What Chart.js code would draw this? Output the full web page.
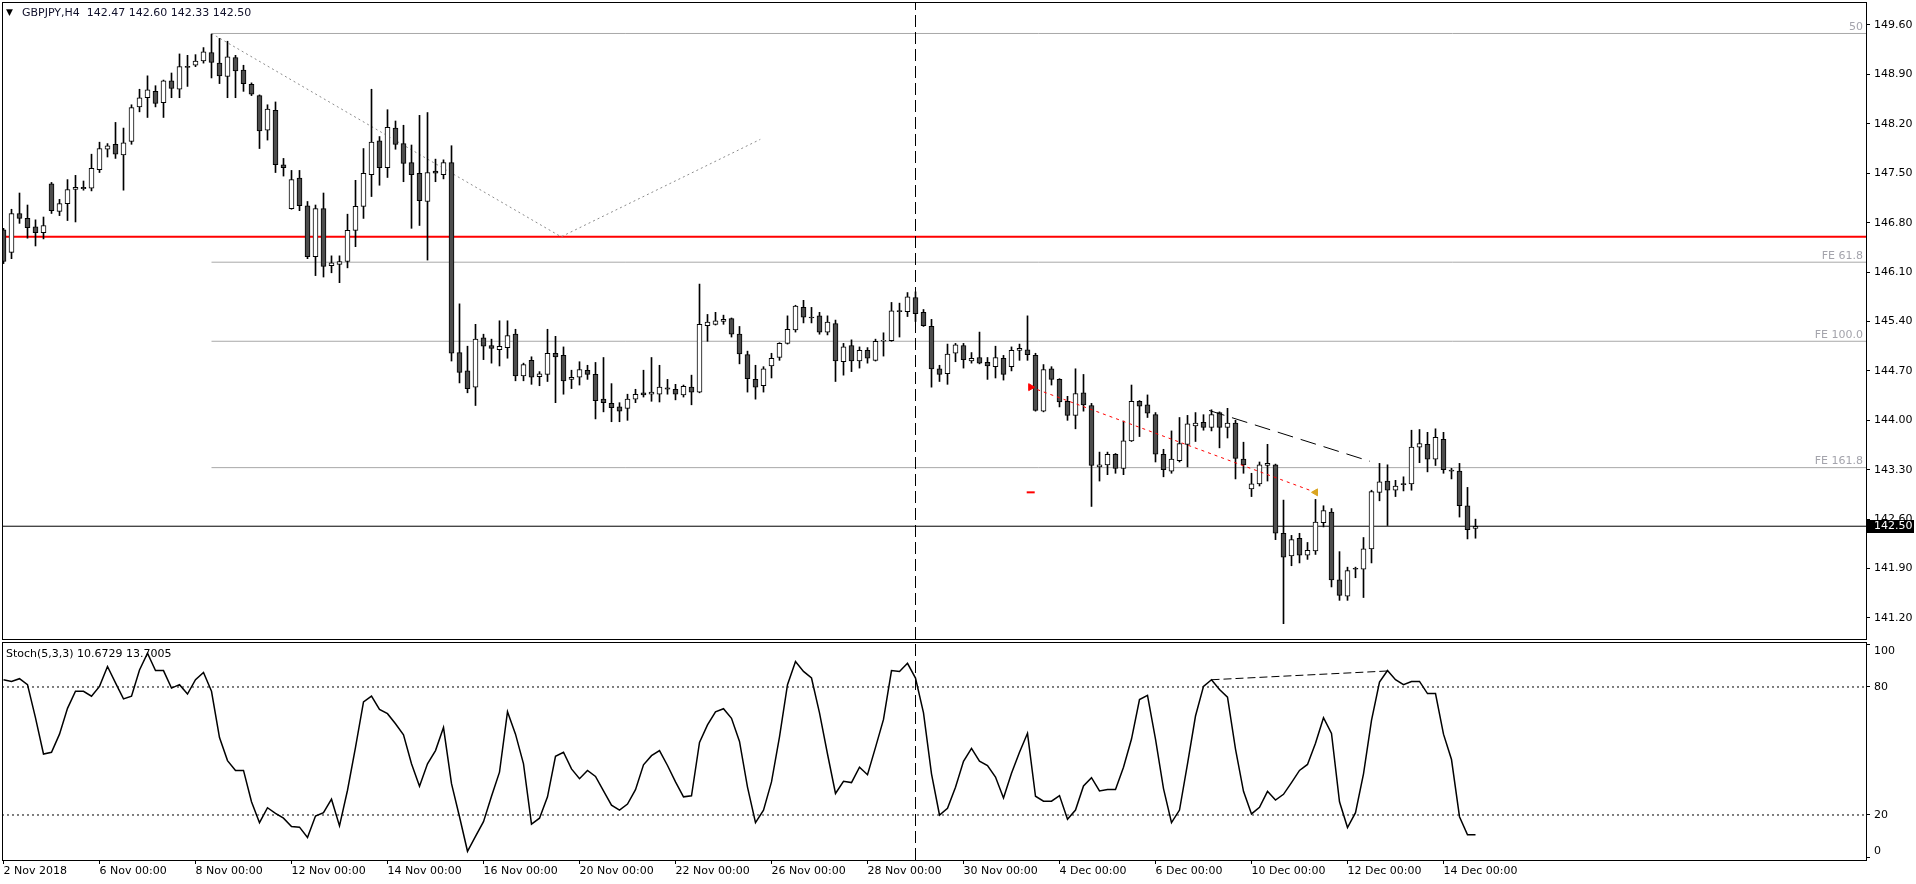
<!DOCTYPE html>
<html>
<head>
<meta charset="utf-8">
<title>GBPJPY,H4</title>
<script src="https://cdn.jsdelivr.net/npm/chart.js@4.4.1/dist/chart.umd.min.js"></script>
<style>
  html, body { margin: 0; padding: 0; background: #fff; overflow: hidden; }
  #wrap { position: relative; width: 1916px; height: 884px; }
  #priceChart { position: absolute; left: 0; top: 0; }
  #stochChart { position: absolute; left: 0; top: 641px; }
</style>
</head>
<body>
<div id="wrap">
  <canvas id="priceChart" width="1916" height="641"></canvas>
  <canvas id="stochChart" width="1916" height="243"></canvas>
</div>
<script>
// H4 bars, 2 Nov 2018 00:00 .. 14 Dec 2018 16:00 (bar index = position)
const opens = [
  146.70,146.38,146.93,146.86,146.74,146.66,147.35,146.96,147.07,147.27,
  147.30,147.29,147.55,147.84,147.91,147.76,147.95,148.44,148.57,148.66,
  148.50,148.81,148.69,149.01,149.03,149.09,149.21,149.06,148.87,149.14,
  148.96,148.76,148.60,148.11,148.39,147.62,147.00,147.43,147.04,146.32,
  147.00,146.19,146.21,146.25,146.69,147.03,147.48,147.96,147.58,148.14,
  147.92,147.65,147.50,147.10,147.53,147.48,147.65,144.96,144.70,144.47,
  145.17,145.06,145.00,145.03,145.22,144.63,144.85,144.62,144.65,144.95,
  144.92,144.58,144.61,144.71,144.65,144.30,144.24,144.19,144.17,144.30,
  144.39,144.37,144.37,144.46,144.44,144.36,144.47,144.40,145.34,145.36,
  145.40,145.44,145.22,144.93,144.58,144.49,144.77,144.89,145.09,145.28,
  145.60,145.46,145.48,145.25,145.37,144.83,145.06,144.84,144.99,144.85,
  145.12,145.13,145.55,145.54,145.74,145.53,145.33,144.73,144.66,144.95,
  145.06,144.84,144.89,144.82,144.76,144.88,144.76,144.99,145.00,144.92,
  144.13,144.73,144.58,144.27,144.07,144.39,144.21,143.34,143.37,143.52,
  143.32,143.71,144.27,144.22,144.08,143.52,143.28,143.43,143.66,143.92,
  143.97,143.90,144.11,143.90,143.96,143.45,143.03,143.10,143.36,143.37,
  142.40,142.08,142.33,142.09,142.15,142.55,142.70,141.74,141.51,141.90,
  141.89,142.18,142.98,143.14,143.01,143.10,143.10,143.62,143.66,143.45,
  143.73,143.29,143.28,142.79,142.47
];
const highs = [
  146.72,146.99,147.22,147.05,146.84,146.88,147.37,147.13,147.41,147.47,
  147.39,147.77,147.94,147.92,148.22,148.14,148.47,148.69,148.88,148.74,
  148.82,148.92,149.19,149.17,149.18,149.28,149.47,149.41,149.37,149.17,
  149.03,148.78,148.61,148.47,148.51,147.71,147.54,147.54,147.10,147.05,
  147.22,146.33,146.33,146.92,147.40,147.85,148.69,148.02,148.40,148.24,
  148.18,147.90,148.32,148.36,147.70,147.69,147.89,145.65,145.05,145.36,
  145.22,145.15,145.41,145.41,145.29,144.81,144.90,144.69,145.29,145.19,
  145.04,144.71,144.83,144.78,144.82,144.89,144.52,144.25,144.37,144.44,
  144.71,144.89,144.78,144.58,144.51,144.50,144.64,145.93,145.50,145.53,
  145.49,145.45,145.33,144.98,144.78,144.76,144.95,145.10,145.48,145.63,
  145.70,145.60,145.53,145.48,145.42,145.09,145.14,145.04,145.03,145.15,
  145.24,145.67,145.66,145.81,145.82,145.57,145.43,144.78,145.08,145.09,
  145.09,144.96,145.25,144.89,145.05,144.92,145.04,145.08,145.48,144.95,
  144.79,144.76,144.59,144.34,144.73,144.65,144.24,143.55,143.55,143.53,
  143.99,144.50,144.28,144.36,144.11,143.59,143.85,144.04,144.07,144.11,
  144.08,144.15,144.12,144.17,144.00,143.69,143.25,143.41,143.66,143.38,
  142.87,142.37,142.40,142.27,142.88,142.79,142.75,142.14,141.92,141.92,
  142.34,143.01,143.39,143.37,143.15,143.20,143.86,143.87,143.83,143.88,
  143.83,143.32,143.39,143.05,142.60
];
const lows = [
  146.22,146.29,146.79,146.58,146.47,146.57,146.93,146.90,146.83,146.81,
  147.26,147.25,147.51,147.73,147.71,147.26,147.91,148.37,148.29,148.44,
  148.29,148.57,148.57,148.73,149.01,149.06,148.85,148.77,148.57,148.57,
  148.66,148.60,147.85,147.97,147.51,147.46,146.99,146.97,146.29,146.05,
  146.03,146.09,145.95,146.16,146.46,146.86,147.17,147.33,147.44,147.84,
  147.38,146.72,146.76,146.27,147.38,147.42,144.84,144.53,144.39,144.21,
  144.86,144.81,144.77,144.88,144.56,144.56,144.51,144.49,144.55,144.25,
  144.37,144.45,144.50,144.58,144.02,144.12,143.98,143.98,144.00,144.25,
  144.33,144.27,144.26,144.37,144.29,144.33,144.22,144.39,145.12,145.35,
  145.36,145.18,144.80,144.40,144.30,144.40,144.60,144.85,145.08,145.25,
  145.38,145.38,145.22,145.21,144.55,144.64,144.69,144.74,144.81,144.84,
  144.91,145.12,145.18,145.47,145.40,145.33,144.47,144.55,144.51,144.83,
  144.74,144.81,144.80,144.58,144.60,144.57,144.70,144.85,144.85,144.13,
  144.12,144.50,144.19,144.00,143.88,144.13,142.78,143.14,143.23,143.25,
  143.23,143.70,143.77,144.04,143.41,143.20,143.25,143.41,143.34,143.70,
  143.86,143.85,143.61,143.75,143.17,143.25,142.92,143.07,143.14,142.31,
  141.12,141.94,141.98,142.03,142.10,142.49,141.64,141.45,141.45,141.77,
  141.49,141.98,142.86,142.51,142.92,143.00,143.01,143.40,143.27,143.36,
  143.25,143.17,142.63,142.32,142.33
];
const closes = [
  146.25,146.93,146.86,146.73,146.66,146.76,146.97,147.07,147.27,147.30,
  147.28,147.57,147.85,147.89,147.77,147.93,148.43,148.57,148.68,148.49,
  148.81,148.70,149.01,149.00,149.09,149.22,149.07,148.88,149.15,148.95,
  148.77,148.62,148.10,148.41,147.62,147.58,147.41,147.04,146.32,147.00,
  146.18,146.23,146.25,146.69,147.03,147.50,147.94,147.58,148.15,147.91,
  147.64,147.48,147.11,147.51,147.50,147.65,144.95,144.68,144.45,145.15,
  145.05,145.02,145.05,145.20,144.63,144.79,144.61,144.66,144.95,144.90,
  144.56,144.61,144.72,144.65,144.28,144.25,144.18,144.13,144.30,144.37,
  144.36,144.40,144.47,144.44,144.37,144.48,144.40,145.36,145.39,145.41,
  145.43,145.22,144.94,144.59,144.47,144.73,144.88,145.09,145.29,145.62,
  145.46,145.45,145.25,145.39,144.84,145.04,144.84,144.99,144.88,145.12,
  145.13,145.55,145.54,145.75,145.51,145.34,144.73,144.65,144.94,145.07,
  144.86,144.88,144.81,144.77,144.89,144.65,144.99,145.02,144.93,144.14,
  144.72,144.58,144.26,144.07,144.38,144.22,143.36,143.37,143.52,143.32,
  143.71,144.27,144.20,144.10,143.52,143.30,143.45,143.67,143.95,143.96,
  143.90,144.08,143.90,143.96,143.46,143.37,143.10,143.37,143.39,142.40,
  142.06,142.31,142.09,142.16,142.56,142.72,141.74,141.52,141.87,141.89,
  142.18,142.99,143.13,143.01,143.07,143.09,143.62,143.67,143.45,143.76,
  143.30,143.28,142.79,142.45,142.50
];
// Stochastic (5,3,3) main line, one value per bar
const stochMain = [
  83.4,82.6,83.9,81.1,65.5,48.6,49.4,57.9,70.0,78.0,
  78.0,75.7,80.3,89.6,81.9,74.4,75.7,88.0,95.8,87.7,
  87.7,79.5,81.1,76.7,83.4,86.8,78.0,56.3,45.5,40.9,
  40.9,26.2,16.4,23.4,20.8,18.5,14.6,14.3,9.5,19.5,
  21.1,27.4,14.9,31.6,51.7,73.0,75.7,69.5,67.5,62.8,
  57.6,44.0,33.5,44.0,50.2,61.0,34.7,19.2,3.0,10.0,
  16.9,28.8,40.1,68.4,57.9,44.0,15.7,18.5,28.5,47.5,
  49.4,41.6,37.0,40.9,38.1,31.3,24.6,22.3,25.1,31.9,
  43.5,47.8,50.2,43.2,35.5,28.5,29.0,54.0,62.2,68.4,
  69.8,65.3,54.5,33.1,16.4,22.3,35.5,56.6,81.1,91.9,
  87.3,84.2,67.9,48.6,30.1,35.8,35.2,42.4,38.9,51.7,
  64.8,87.7,87.3,91.1,84.2,67.9,39.3,20.0,23.1,33.0,
  45.2,51.2,45.2,43.2,37.8,28.0,39.6,49.4,58.3,28.8,
  26.5,26.5,29.1,18.0,22.3,33.6,37.5,31.3,31.9,31.9,
  42.4,55.6,74.1,76.1,55.6,32.4,16.4,22.3,44.0,66.4,
  80.3,83.4,78.8,75.2,50.9,31.1,20.5,23.6,31.1,27.0,
  29.7,35.2,40.9,43.7,53.6,65.6,58.2,26.2,14.1,21.1,
  39.3,64.4,82.3,87.7,83.4,81.1,82.6,82.6,76.9,76.9,
  57.9,46.0,19.2,10.7,10.7
];

const priceTicks = [149.60,148.90,148.20,147.50,146.80,146.10,145.40,144.70,144.00,143.30,142.60,141.90,141.20];
const stochTicks = [0, 20, 80, 100];
const stochLevels = [20, 80];
const dateTickBars = [0,12,24,36,48,60,72,84,96,108,120,132,144,156,168,180];
const dateTickLabels = ['2 Nov 2018','6 Nov 00:00','8 Nov 00:00','12 Nov 00:00','14 Nov 00:00','16 Nov 00:00',
  '20 Nov 00:00','22 Nov 00:00','26 Nov 00:00','28 Nov 00:00','30 Nov 00:00','4 Dec 00:00',
  '6 Dec 00:00','10 Dec 00:00','12 Dec 00:00','14 Dec 00:00'];

// drawn objects
const fiboLevels = [149.48, 146.24, 145.12, 143.33];
const fiboLabels = ['50', 'FE 61.8', 'FE 100.0', 'FE 161.8'];
const fiboStartBar = 26;
const fiboTrendBars = [26, 69.7, 94.6];
const fiboTrendPrices = [149.48, 146.60, 147.98];
const redLevel = 146.60;
const cursorBar = 114;
const tradeBars = [128.4, 164];
const tradePrices = [144.47, 142.98];
const closeMarkBar = 128.4;
const closeMarkPrice = 142.98;
const trendBars = [150.7, 170.8];
const trendPrices = [144.14, 143.42];
const stochTrendBars = [151, 173];
const stochTrendValues = [83.4, 87.5];

const symbolTitle = 'GBPJPY,H4  142.47 142.60 142.33 142.50';
const stochTitle = 'Stoch(5,3,3) 10.6729 13.7005';
const lastPrice = closes[closes.length - 1];

// view ranges (8 px per bar)
const X_MIN = -0.1875, X_MAX = 232.8125;
const Y_MIN = 140.9025, Y_MAX = 149.9116;
const S_MIN = -1.094, S_MAX = 100.625;

Chart.defaults.font.family = "'DejaVu Sans', sans-serif";
Chart.defaults.font.size = 11;
Chart.defaults.color = '#000';

const frame = {
  id: 'frame',
  afterDatasetsDraw(chart) {
    const a = chart.chartArea, ctx = chart.ctx;
    ctx.save();
    ctx.strokeStyle = '#000';
    ctx.lineWidth = 1;
    ctx.strokeRect(a.left + 0.5, a.top - 0.5, a.right - a.left, a.bottom - a.top + 1);
    ctx.restore();
  }
};

const priceDecor = {
  id: 'priceDecor',
  afterDraw(chart) {
    const ctx = chart.ctx, a = chart.chartArea, y = chart.scales.y;
    ctx.save();
    // header
    ctx.fillStyle = '#000';
    ctx.textBaseline = 'middle';
    ctx.font = "9px 'DejaVu Sans'";
    ctx.fillText('\u25BC', 6, 13);
    ctx.font = "11px 'DejaVu Sans'";
    ctx.fillStyle = '#10102a';
    ctx.fillText(symbolTitle, 22, 13);
    // fibo labels
    ctx.fillStyle = '#a4a4ac';
    ctx.textAlign = 'right';
    ctx.textBaseline = 'bottom';
    fiboLevels.forEach((lv, i) => {
      ctx.fillText(fiboLabels[i], a.right - 3, y.getPixelForValue(lv) - 1);
    });
    // last price box
    const py = Math.round(y.getPixelForValue(lastPrice));
    ctx.fillStyle = '#000';
    ctx.fillRect(a.right + 1, py - 6, 47, 13);
    ctx.fillStyle = '#fff';
    ctx.textAlign = 'left';
    ctx.textBaseline = 'middle';
    ctx.fillText(lastPrice.toFixed(2), a.right + 8, py + 0.5);
    ctx.restore();
  }
};

const stochDecor = {
  id: 'stochDecor',
  afterDraw(chart) {
    const ctx = chart.ctx;
    ctx.save();
    ctx.fillStyle = '#000';
    ctx.textBaseline = 'middle';
    ctx.font = "11px 'DejaVu Sans'";
    ctx.fillText(stochTitle, 6, 13);
    ctx.restore();
  }
};

function hLine(level, fromBar, color, width, dash, order) {
  return {
    type: 'line',
    data: [{ x: fromBar, y: level }, { x: X_MAX, y: level }],
    borderColor: color, borderWidth: width, borderDash: dash,
    pointRadius: 0, order: order
  };
}

// right-hand axis of fixed width, no extra label padding
function fixRightAxis(s) {
  s.width = 50;
  s.paddingTop = 0;
  s.paddingBottom = 0;
}

// keep the end labels of the oscillator scale inside the panel
function stochLabel(v) {
  if (v === 100) return ['', '100'];
  if (v === 0) return ['0', ''];
  return String(v);
}

const bodyColors = closes.map((c, i) => c >= opens[i] ? '#ffffff' : '#4d4d4d');

new Chart(document.getElementById('priceChart'), {
  type: 'bar',
  data: {
    datasets: [
      {
        type: 'bar',
        data: highs.map((h, i) => ({ x: i, y: [lows[i], h] })),
        backgroundColor: '#000',
        borderWidth: 0,
        barThickness: 1,
        grouped: false,
        order: 5
      },
      {
        type: 'bar',
        data: opens.map((o, i) => ({ x: i, y: [o, closes[i]] })),
        backgroundColor: bodyColors,
        borderColor: '#000',
        borderWidth: 1,
        borderSkipped: false,
        barThickness: 5,
        minBarLength: 1,
        grouped: false,
        order: 4
      },
      hLine(redLevel, X_MIN, '#ff0000', 2, [], 8),
      hLine(lastPrice, X_MIN, '#000', 1, [], 8),
      ...fiboLevels.map(lv => hLine(lv, fiboStartBar, '#a8a8a8', 1, [], 9)),
      {
        type: 'line',
        data: fiboTrendBars.map((b, i) => ({ x: b, y: fiboTrendPrices[i] })),
        borderColor: '#8c8c8c', borderWidth: 1, borderDash: [2, 3],
        pointRadius: 0, order: 7
      },
      {
        type: 'line',
        data: [{ x: cursorBar, y: Y_MIN }, { x: cursorBar, y: Y_MAX }],
        borderColor: '#000', borderWidth: 1, borderDash: [12, 5],
        pointRadius: 0, order: 7
      },
      {
        type: 'line',
        data: trendBars.map((b, i) => ({ x: b, y: trendPrices[i] })),
        borderColor: '#000', borderWidth: 1, borderDash: [16, 8],
        pointRadius: 0, order: 1
      },
      {
        type: 'line',
        data: tradeBars.map((b, i) => ({ x: b, y: tradePrices[i] })),
        borderColor: '#ff0000', borderWidth: 1, borderDash: [3, 4],
        pointStyle: 'triangle', pointRadius: 4,
        pointRotation: [90, -90],
        pointBackgroundColor: ['#ff0000', '#daa520'],
        pointBorderColor: ['#ff0000', '#daa520'],
        order: 1
      },
      {
        type: 'line',
        data: [{ x: closeMarkBar, y: closeMarkPrice }],
        showLine: false,
        pointStyle: 'line', pointRadius: 4, pointBorderWidth: 2,
        pointBorderColor: '#ff0000',
        order: 1
      }
    ]
  },
  options: {
    responsive: false,
    animation: false,
    events: [],
    layout: { autoPadding: false, padding: { left: 2, top: 3, right: 0, bottom: 2 } },
    plugins: { legend: { display: false }, tooltip: { enabled: false } },
    scales: {
      x: {
        type: 'linear', min: X_MIN, max: X_MAX, offset: false,
        display: false, grid: { offset: false }
      },
      y: {
        position: 'right', min: Y_MIN, max: Y_MAX,
        afterFit: fixRightAxis,
        afterBuildTicks: (s) => { s.ticks = priceTicks.map(v => ({ value: v })); },
        grid: { drawOnChartArea: false, drawTicks: true, tickLength: 4, color: '#000' },
        border: { color: '#000' },
        ticks: { padding: 4, color: '#000', autoSkip: false, callback: (v) => Number(v).toFixed(2) }
      }
    }
  },
  plugins: [frame, priceDecor]
});

new Chart(document.getElementById('stochChart'), {
  type: 'line',
  data: {
    datasets: [
      {
        data: stochMain.map((v, i) => ({ x: i, y: v })),
        borderColor: '#000', borderWidth: 1.5, pointRadius: 0, tension: 0, order: 2
      },
      ...stochLevels.map(lv => ({
        data: [{ x: X_MIN, y: lv }, { x: X_MAX, y: lv }],
        borderColor: '#000', borderWidth: 1, borderDash: [2, 3], pointRadius: 0, order: 5
      })),
      {
        data: stochTrendBars.map((b, i) => ({ x: b, y: stochTrendValues[i] })),
        borderColor: '#000', borderWidth: 1, borderDash: [8, 4], pointRadius: 0, order: 1
      },
      {
        data: [{ x: cursorBar, y: S_MIN }, { x: cursorBar, y: S_MAX }],
        borderColor: '#000', borderWidth: 1, borderDash: [12, 5], pointRadius: 0, order: 4
      }
    ]
  },
  options: {
    responsive: false,
    animation: false,
    events: [],
    layout: { autoPadding: false, padding: { left: 2, top: 2, right: 0, bottom: 0 } },
    plugins: { legend: { display: false }, tooltip: { enabled: false } },
    scales: {
      x: {
        type: 'linear', min: X_MIN, max: X_MAX, offset: false,
        afterFit: (s) => { s.height = 24; s.paddingLeft = 0; s.paddingRight = 0; },
        afterBuildTicks: (s) => { s.ticks = dateTickBars.map(v => ({ value: v })); },
        grid: { drawOnChartArea: false, drawTicks: true, tickLength: 4, color: '#000', offset: false },
        border: { color: '#000' },
        ticks: {
          autoSkip: false, maxRotation: 0, minRotation: 0, align: 'start', padding: 1,
          color: '#000',
          callback: (v, i) => dateTickLabels[i]
        }
      },
      y: {
        position: 'right', min: S_MIN, max: S_MAX,
        afterFit: fixRightAxis,
        afterBuildTicks: (s) => { s.ticks = stochTicks.map(v => ({ value: v })); },
        grid: { drawOnChartArea: false, drawTicks: true, tickLength: 4, color: '#000' },
        border: { color: '#000' },
        ticks: { padding: 4, color: '#000', autoSkip: false, callback: stochLabel }
      }
    }
  },
  plugins: [frame, stochDecor]
});
</script>
</body>
</html>
